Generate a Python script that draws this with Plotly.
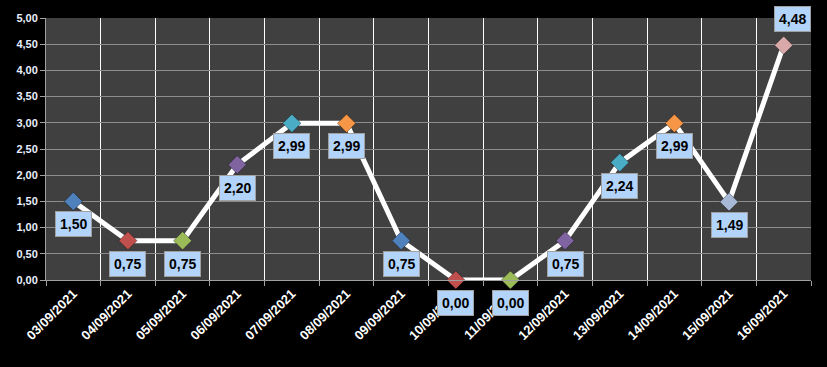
import plotly.graph_objects as go

dates = ["03/09/2021", "04/09/2021", "05/09/2021", "06/09/2021", "07/09/2021",
         "08/09/2021", "09/09/2021", "10/09/2021", "11/09/2021", "12/09/2021",
         "13/09/2021", "14/09/2021", "15/09/2021", "16/09/2021"]
values = [1.50, 0.75, 0.75, 2.20, 2.99, 2.99, 0.75, 0.00, 0.00, 0.75, 2.24, 2.99, 1.49, 4.48]
marker_colors = ["#4F81BD", "#C0504D", "#9BBB59", "#8064A2", "#4BACC6", "#F79646",
                 "#4F81BD", "#C0504D", "#9BBB59", "#8064A2", "#4BACC6", "#F79646",
                 "#A7B9D6", "#D9A9A9"]
label_above = [False] * 13 + [True]

fig = go.Figure()
fig.add_trace(go.Scatter(
    x=dates, y=values, mode="lines+markers",
    line=dict(color="white", width=5),
    marker=dict(symbol="diamond", size=14, color=marker_colors,
                line=dict(color="rgba(0,0,0,0.35)", width=1)),
    cliponaxis=False, showlegend=False,
))

for d, v, up in zip(dates, values, label_above):
    fig.add_annotation(
        x=d, y=v, xref="x", yref="y", showarrow=False,
        text="<b>" + f"{v:.2f}".replace(".", ",") + "</b>",
        font=dict(family="Liberation Sans, Arial", size=14, color="black"),
        bgcolor="#B3D4FA", bordercolor="#A0A0A0", borderwidth=1, borderpad=4,
        yshift=26 if up else -23, xshift=9 if up else 0,
    )

fig.update_layout(
    width=827, height=367,
    margin=dict(l=46, r=16, t=16, b=87),
    paper_bgcolor="black", plot_bgcolor="#404040",
    separators=",.",
    font=dict(family="Liberation Sans, Arial", color="white"),
)
fig.update_xaxes(
    type="category", tickson="boundaries", range=[-0.5, len(dates) - 0.5],
    showgrid=True, gridcolor="white", gridwidth=1,
    ticks="outside", ticklen=5, tickcolor="#A0A0A0",
    tickangle=-45, tickfont=dict(size=13, color="white", family="Liberation Sans, Arial", weight="bold"),
    showline=True, linecolor="#A0A0A0", linewidth=1,
    zeroline=False,
)
fig.update_yaxes(
    range=[0, 5], dtick=0.5, tickformat=".2f",
    showgrid=True, gridcolor="#8C8C8C", gridwidth=1,
    ticks="outside", ticklen=5, tickcolor="#A0A0A0",
    tickfont=dict(size=11, color="#E8F0FF", family="Liberation Sans, Arial", weight="bold"),
    showline=True, linecolor="#A0A0A0", linewidth=1, zeroline=False,
)

fig.write_html("out.html")
